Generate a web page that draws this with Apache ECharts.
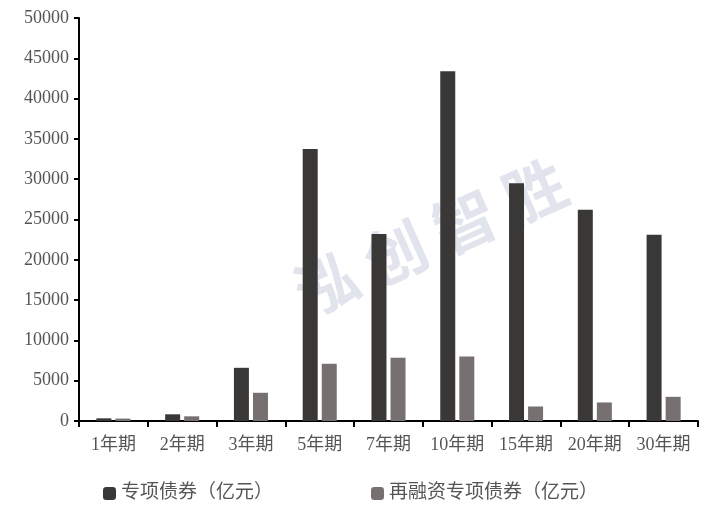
<!DOCTYPE html>
<html>
<head>
<meta charset="utf-8">
<script src="https://cdn.jsdelivr.net/npm/echarts@6/dist/echarts.min.js"></script>
<style>
  html, body { margin: 0; padding: 0; background: #fff; }
  #main { width: 716px; height: 510px; }
</style>
</head>
<body>
<div id="main"></div>
<script>
// 期限分类
const categories = ['1年期', '2年期', '3年期', '5年期', '7年期', '10年期', '15年期', '20年期', '30年期'];
// 专项债券（亿元）
const specialBond = [330, 830, 6600, 33750, 23200, 43400, 29500, 26200, 23100];
// 再融资专项债券（亿元）
const refinanceBond = [300, 580, 3500, 7100, 7850, 8000, 1800, 2300, 3000];

const seriesNames = ['专项债券（亿元）', '再融资专项债券（亿元）'];
const textColor = '#575454';
const fontFamily = "'Liberation Serif', 'Noto Sans CJK SC', serif";

let myChart = echarts.init(document.getElementById('main'));

let option = {
  animation: false,
  backgroundColor: '#ffffff',
  textStyle: { fontFamily: fontFamily },
  grid: { left: 79, right: 18, top: 18, bottom: 89, containLabel: false },
  // 水印
  graphic: [{
    type: 'text',
    left: 285,
    top: 150,
    rotation: 0.42,
    z: 0,
    style: {
      text: '泓 创 智 胜',
      fontSize: 62,
      fontWeight: 'bold',
      fontFamily: "'Noto Sans CJK SC', sans-serif",
      fill: 'rgba(200, 205, 222, 0.55)'
    }
  }],
  legend: [{
    data: [seriesNames[0]],
    left: 98,
    top: 479,
    itemWidth: 13,
    itemHeight: 13,
    itemGap: 8,
    textStyle: { color: textColor, fontSize: 19, fontFamily: fontFamily }
  }, {
    data: [seriesNames[1]],
    left: 366,
    top: 479,
    itemWidth: 13,
    itemHeight: 13,
    itemGap: 8,
    textStyle: { color: textColor, fontSize: 19, fontFamily: fontFamily }
  }],
  xAxis: {
    type: 'category',
    data: categories,
    boundaryGap: true,
    axisLine: { lineStyle: { color: '#000', width: 2 } },
    axisTick: { show: true, length: 6, lineStyle: { color: '#000', width: 2 } },
    axisLabel: { color: textColor, fontSize: 18, margin: 15, interval: 0, fontFamily: fontFamily }
  },
  yAxis: {
    type: 'value',
    min: 0,
    max: 50000,
    interval: 5000,
    splitLine: { show: false },
    axisLine: { show: true, lineStyle: { color: '#000', width: 2 } },
    axisTick: { show: true, length: 5, lineStyle: { color: '#000', width: 2 } },
    axisLabel: {
      color: textColor,
      fontSize: 18,
      margin: 10,
      fontFamily: fontFamily,
      formatter: function (v) { return String(v); }
    }
  },
  series: [{
    name: seriesNames[0],
    type: 'bar',
    data: specialBond,
    barWidth: 15,
    barGap: '27%',
    itemStyle: { color: '#3a3836' },
    z: 2
  }, {
    name: seriesNames[1],
    type: 'bar',
    data: refinanceBond,
    barWidth: 15,
    itemStyle: { color: '#767170' },
    z: 2
  }]
};

myChart.setOption(option);
</script>
</body>
</html>
